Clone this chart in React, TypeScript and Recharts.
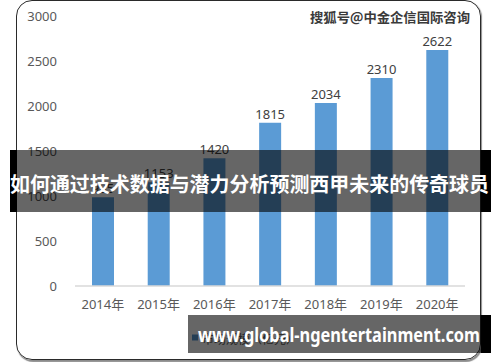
import React from 'react';
import { BarChart, Bar, XAxis, YAxis, LabelList } from 'recharts';

const categories = ['2014年', '2015年', '2016年', '2017年', '2018年', '2019年', '2020年'];
const values = [985, 1153, 1420, 1815, 2034, 2310, 2622];
const yTicks = [0, 500, 1000, 1500, 2000, 2500, 3000];
const seriesName = '市场规模（亿元）';
const title = '如何通过技术数据与潜力分析预测西甲未来的传奇球员';
const watermark = '搜狐号@中金企信国际咨询';
const siteUrl = 'www.global-ngentertainment.com';

const data = categories.map((c, i) => ({ year: c, value: values[i] }));

const FONT = "'Noto Sans', 'Noto Sans CJK SC', sans-serif";
const CJK = "'Noto Sans CJK SC', 'Noto Sans', sans-serif";

export default function App() {
  return (
    <div style={{ position: 'absolute', left: 0, top: 0, width: 500, height: 362, background: '#fff', overflow: 'hidden' }}>
      <div
        style={{
          position: 'absolute',
          left: 16,
          top: 0,
          width: 463,
          height: 358,
          border: '1.5px solid #2a2a2a',
          borderRadius: 16,
          boxShadow: '1px 1.5px 1px rgba(0,0,0,0.45)',
        }}
      />
      <div style={{ position: 'absolute', left: 0, top: 0 }}>
        <BarChart width={500} height={362} data={data} margin={{ top: 16, right: 35, bottom: 46, left: 0 }}>
          <XAxis
            dataKey="year"
            height={30}
            tickLine={false}
            axisLine={{ stroke: '#d9d9d9', strokeWidth: 1.5 }}
            tickMargin={8}
            tick={{ fill: '#595959', fontSize: 13, fontFamily: FONT }}
            interval={0}
          />
          <YAxis
            width={75}
            domain={[0, 3000]}
            ticks={yTicks}
            axisLine={false}
            tickLine={false}
            tickMargin={12}
            tick={{ fill: '#595959', fontSize: 13, fontFamily: FONT }}
          />
          <Bar dataKey="value" name={seriesName} fill="#5b9bd5" barSize={22} isAnimationActive={false}>
            <LabelList dataKey="value" position="top" offset={4} fill="#404040" fontSize={13} fontFamily={FONT} />
          </Bar>
        </BarChart>
      </div>
      <svg width={500} height={362} style={{ position: 'absolute', left: 0, top: 0, pointerEvents: 'none' }}>
        <text
          x={470}
          y={16}
          textAnchor="end"
          dominantBaseline="central"
          fontFamily={CJK}
          fontWeight={700}
          fontSize={13}
          fill="#3a3a3a"
          stroke="#ffffff"
          strokeWidth={2}
          paintOrder="stroke"
          textLength={160}
          lengthAdjust="spacingAndGlyphs"
        >
          {watermark}
        </text>
        {/* legend (mostly hidden beneath the footer band) */}
        <rect x={192} y={334.5} width={6} height={6} fill="#5b9bd5" />
        <text x={202} y={338} dominantBaseline="central" fontFamily={CJK} fontSize={12} fill="#595959">
          {seriesName}
        </text>
        {/* title band */}
        <rect x={10} y={150} width={7} height={62} fill="#000" />
        <rect x={17} y={150} width={464} height={62} fill="rgba(0,0,0,0.6)" />
        <rect x={481} y={150} width={10} height={62} fill="#000" />
        <text
          x={10}
          y={183}
          dominantBaseline="central"
          fontFamily={CJK}
          fontWeight={700}
          fontSize={20}
          fill="#ffffff"
          textLength={479}
          lengthAdjust="spacingAndGlyphs"
        >
          {title}
        </text>
        {/* footer band */}
        <rect x={188} y={315} width={293} height={38} fill="rgba(0,0,0,0.6)" />
        <rect x={481} y={315} width={10} height={38} fill="#000" />
        <text
          x={198}
          y={342}
          fontFamily={FONT}
          fontWeight={700}
          fontSize={19}
          fill="#ffffff"
          textLength={282}
          lengthAdjust="spacingAndGlyphs"
        >
          {siteUrl}
        </text>
      </svg>
    </div>
  );
}
